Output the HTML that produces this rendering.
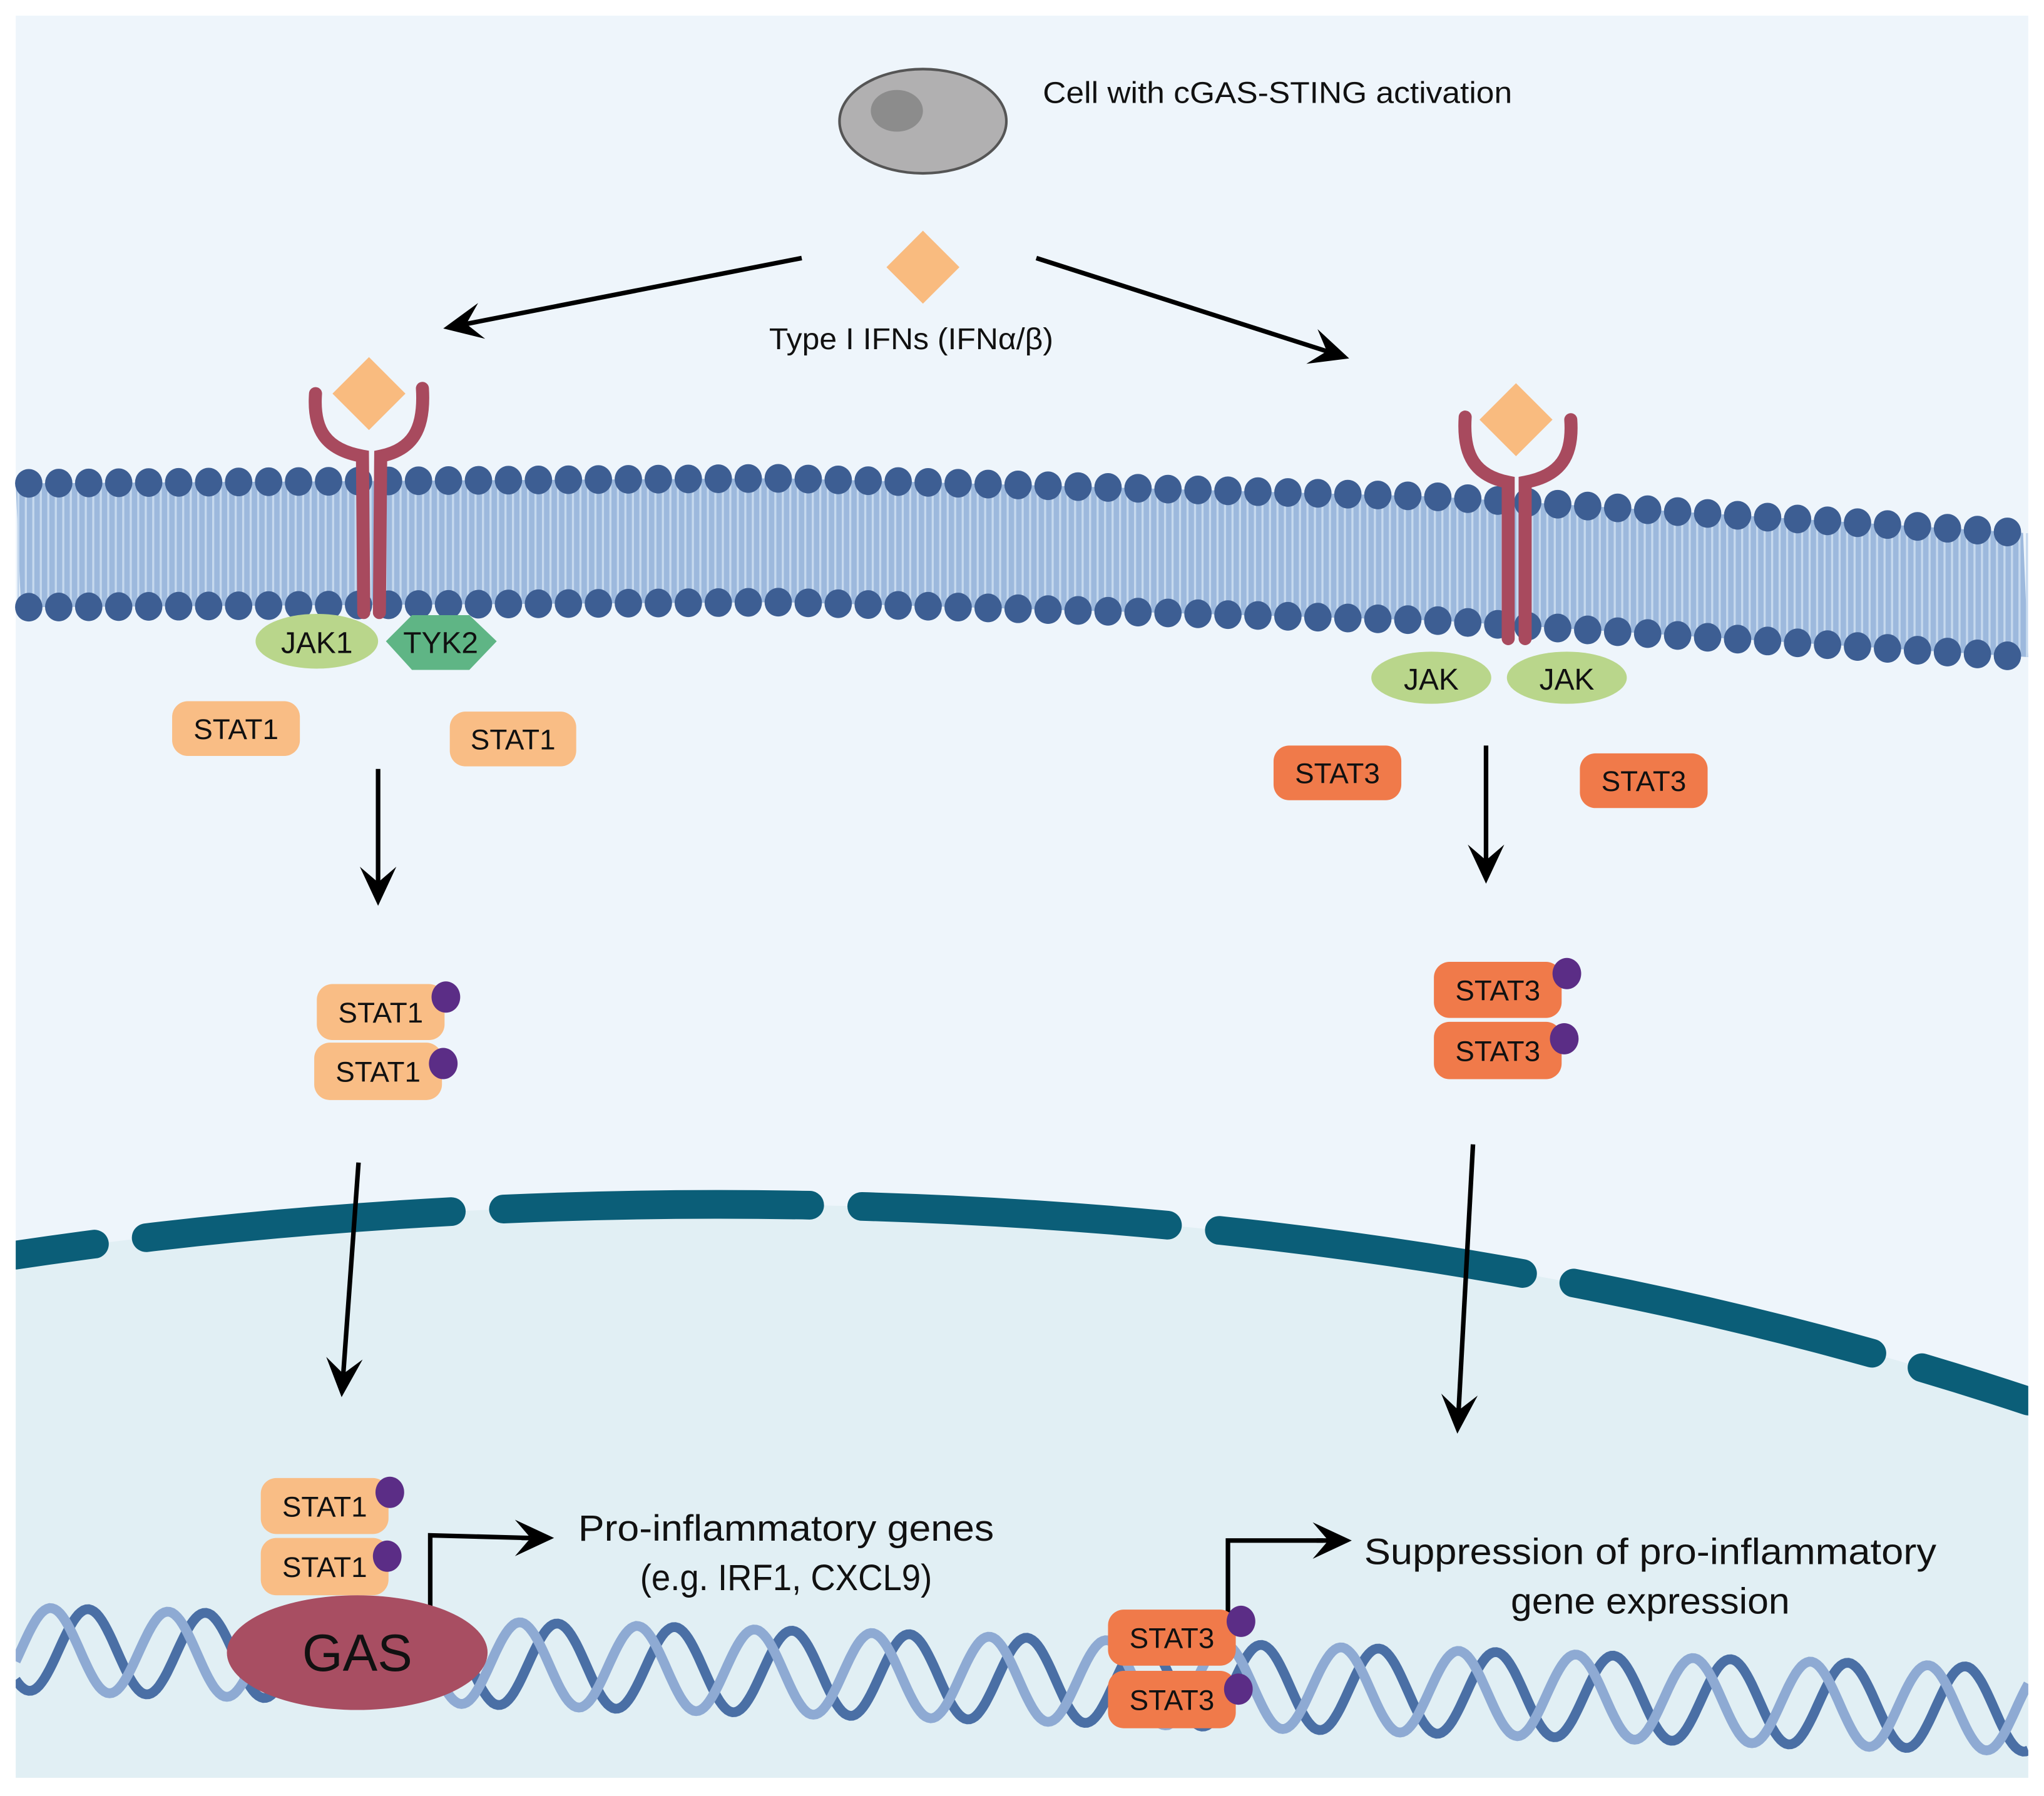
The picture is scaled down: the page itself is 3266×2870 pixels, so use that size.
<!DOCTYPE html>
<html><head><meta charset="utf-8"><style>
html,body{margin:0;padding:0;background:#fff}
svg{display:block}
text{font-family:"Liberation Sans",sans-serif;fill:#111}
</style></head><body>
<svg id="s" width="3266" height="2870" viewBox="0 0 1568 1378" xmlns="http://www.w3.org/2000/svg">
<defs>
<clipPath id="cp"><rect x="12" y="12" width="1544" height="1352"/></clipPath>
</defs>
<rect x="0" y="0" width="1568" height="1378" fill="#fff"/>
<rect x="12" y="12" width="1544" height="1352" fill="#eef5fb"/>
<path d="M12,963 C400,905 1000,890 1556,1075 L1556,1364 L12,1364 Z" fill="#e1eff4"/>
<g id="mem"></g>
<g id="dna" clip-path="url(#cp)"></g>
<g clip-path="url(#cp)">
<path d="M12,963 C400,905 1000,890 1556,1075" fill="none" stroke="#0b5e78" stroke-width="22" stroke-linecap="round" stroke-dasharray="235 40" stroke-dashoffset="174"/>
</g>

<ellipse cx="708" cy="93" rx="64" ry="40" fill="#b1b0b1" stroke="#555" stroke-width="2"/>
<ellipse cx="688" cy="85" rx="20" ry="16" fill="#8c8c8c"/>
<text x="800" y="79" font-size="23" textLength="360" lengthAdjust="spacingAndGlyphs">Cell with cGAS-STING activation</text>
<polygon points="708,177 736,205 708,233 680,205" fill="#f9bb7f"/>
<text x="590" y="268" font-size="23" textLength="218" lengthAdjust="spacingAndGlyphs">Type I IFNs (IFNα/β)</text>

<g id="arrows" stroke="#000" stroke-width="3.5" fill="none"></g>

<g id="rec">
<polygon points="283,274 311,302 283,330 255,302" fill="#f9bb7f"/>
<g fill="none" stroke="#a84a5e" stroke-width="10" stroke-linecap="round">
<path d="M242,302 C240,330 250,345 278,350 L279,470"/>
<path d="M324,298 C326,330 316,345 292,350 L291,470"/>
</g>
<polygon points="1163,294 1191,322 1163,350 1135,322" fill="#f9bb7f"/>
<g fill="none" stroke="#a84a5e" stroke-width="10" stroke-linecap="round">
<path d="M1124,320 C1122,350 1132,365 1157,370 L1157,490"/>
<path d="M1205,322 C1207,350 1197,365 1170,370 L1170,490"/>
</g>
</g>

<ellipse cx="243" cy="492" rx="47" ry="21" fill="#b9d68b"/>
<text x="243" y="501" font-size="23" text-anchor="middle">JAK1</text>
<polygon points="296,492 316,472 360,472 381,492 360,514 316,514" fill="#5fb585"/>
<text x="338" y="501" font-size="23" text-anchor="middle">TYK2</text>
<ellipse cx="1098" cy="520" rx="46" ry="20" fill="#b9d68b"/>
<text x="1098" y="529" font-size="23" text-anchor="middle">JAK</text>
<ellipse cx="1202" cy="520" rx="46" ry="20" fill="#b9d68b"/>
<text x="1202" y="529" font-size="23" text-anchor="middle">JAK</text>

<g id="stats"></g>

<ellipse cx="274" cy="1268" rx="100" ry="44" fill="#a84e62"/>
<text x="274" y="1282" font-size="40" text-anchor="middle">GAS</text>

<text x="603" y="1182" font-size="28" text-anchor="middle" textLength="319" lengthAdjust="spacingAndGlyphs">Pro-inflammatory genes</text>
<text x="603" y="1220" font-size="28" text-anchor="middle" textLength="224" lengthAdjust="spacingAndGlyphs">(e.g. IRF1, CXCL9)</text>
<text x="1266" y="1200" font-size="28" text-anchor="middle" textLength="439" lengthAdjust="spacingAndGlyphs">Suppression of pro-inflammatory</text>
<text x="1266" y="1238" font-size="28" text-anchor="middle" textLength="214" lengthAdjust="spacingAndGlyphs">gene expression</text>
</svg>
<script>
(function(){
var NS="http://www.w3.org/2000/svg";
function el(p,t,a){var e=document.createElementNS(NS,t);for(var k in a)e.setAttribute(k,a[k]);p.appendChild(e);return e;}
function lerp(pts,x){for(var i=0;i<pts.length-1;i++){if(x<=pts[i+1][0]){var a=pts[i],b=pts[i+1];return a[1]+(b[1]-a[1])*(x-a[0])/(b[0]-a[0]);}}return pts[pts.length-1][1];}
var memTop=[[0,371],[600,367],[1100,381],[1570,410]];
var mem=document.getElementById('mem');
var d="M12,"+lerp(memTop,12);
for(var x=12;x<=1556;x+=10)d+=" L"+x+","+lerp(memTop,x);
for(var x=1556;x>=12;x-=10)d+=" L"+x+","+(lerp(memTop,x)+95);
el(mem,'path',{d:d+"Z",fill:"#9db9dd"});
for(var x=14;x<=1556;x+=5.75){var y=lerp(memTop,x);el(mem,'line',{x1:x,y1:y,x2:x,y2:y+95,stroke:"#c6d9ee","stroke-width":1.6});}
for(var x=22;x<=1556;x+=23){var y=lerp(memTop,x);el(mem,'ellipse',{cx:x,cy:y,rx:10.5,ry:11,fill:"#3d5e93"});el(mem,'ellipse',{cx:x,cy:y+95,rx:10.5,ry:11,fill:"#3d5e93"});}
var dna=document.getElementById('dna');
function cy(x){return 1265+(x-12)*(1312-1265)/1544;}
function strand(ph,col){var d="";for(var x=12;x<=1556;x+=2){var y=cy(x)+32*Math.sin((x/90)*2*Math.PI+ph);d+=(x==12?"M":"L")+x+","+y.toFixed(1)+" ";}el(dna,'path',{d:d,fill:"none",stroke:col,"stroke-width":7.5});}
strand(0,"#4a6fa5");strand(2.0,"#8eaad3");
var ar=document.getElementById('arrows');
function arrow(x1,y1,x2,y2){var dx=x2-x1,dy=y2-y1,L=Math.hypot(dx,dy),ux=dx/L,uy=dy/L,px=-uy,py=ux;var hl=30,hw=14;
el(ar,'line',{x1:x1,y1:y1,x2:x2-ux*hl*0.6,y2:y2-uy*hl*0.6});
var bx=x2-ux*hl,by=y2-uy*hl,nx=x2-ux*hl*0.6,ny=y2-uy*hl*0.6;
el(ar,'polygon',{points:x2+","+y2+" "+(bx+px*hw)+","+(by+py*hw)+" "+nx+","+ny+" "+(bx-px*hw)+","+(by-py*hw),fill:"#000",stroke:"none"});}
arrow(615,198,340,252);arrow(795,198,1035,275);
arrow(290,590,290,695);arrow(1140,572,1140,678);
arrow(275,892,262,1072);arrow(1130,878,1118,1100);
el(ar,'polyline',{points:"330,1240 330,1178 405,1180"});arrow(400,1180,425,1180);
el(ar,'polyline',{points:"942,1245 942,1182 1015,1182"});arrow(1010,1182,1037,1182);
var st=document.getElementById('stats');
function stat(x,y,w,h,lab,col){el(st,'rect',{x:x,y:y,width:w,height:h,rx:12,fill:col});var t=el(st,'text',{x:x+w/2,y:y+h/2+8,"font-size":22,"text-anchor":"middle"});t.textContent=lab;}
function dot(x,y){el(st,'ellipse',{cx:x,cy:y,rx:11,ry:12,fill:"#5b2d86"});}
var S1="#f9bd85",S3="#f07a4a";
stat(132,538,98,42,"STAT1",S1);stat(345,546,97,42,"STAT1",S1);
stat(977,572,98,42,"STAT3",S3);stat(1212,578,98,42,"STAT3",S3);
stat(243,755,98,43,"STAT1",S1);stat(241,800,98,44,"STAT1",S1);dot(342,765);dot(340,816);
stat(1100,738,98,43,"STAT3",S3);stat(1100,784,98,44,"STAT3",S3);dot(1202,747);dot(1200,797);
stat(200,1134,98,43,"STAT1",S1);stat(200,1180,98,44,"STAT1",S1);dot(299,1145);dot(297,1194);
stat(850,1235,98,43,"STAT3",S3);stat(850,1282,98,44,"STAT3",S3);dot(952,1244);dot(950,1296);
var rec=document.getElementById('rec');
mem.parentNode.insertBefore(mem,rec);
})();
</script>
</body></html>
